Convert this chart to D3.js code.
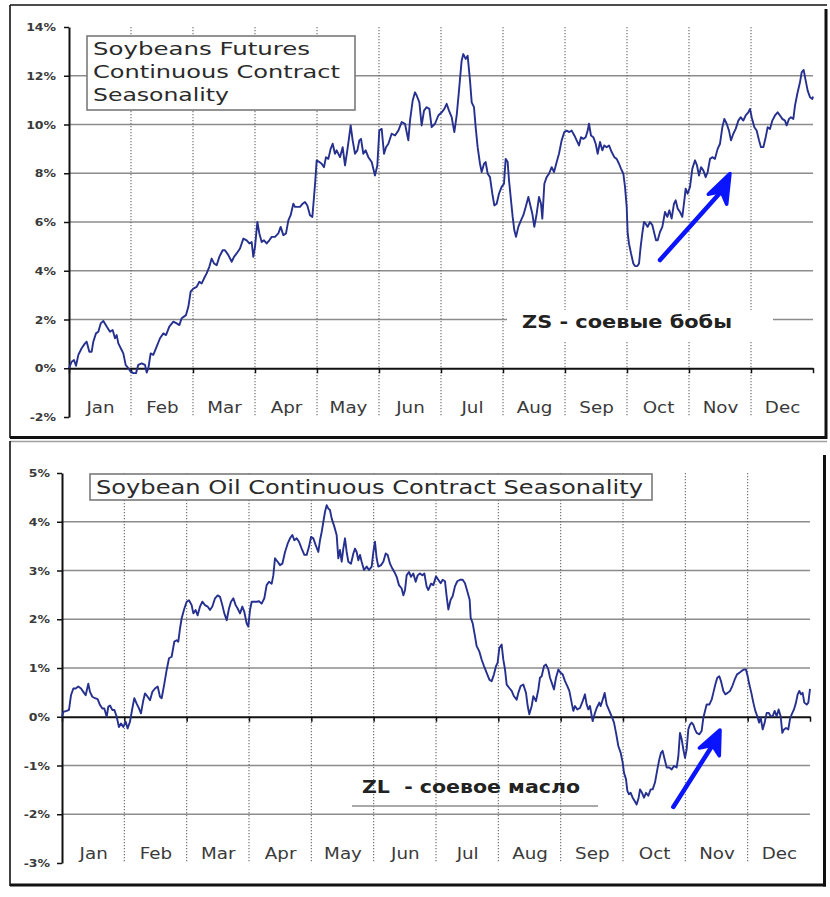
<!DOCTYPE html>
<html>
<head>
<meta charset="utf-8">
<script src="https://cdn.jsdelivr.net/npm/d3@7"></script>
<style>
  html, body { margin: 0; padding: 0; background: #fff; }
  svg { display: block; }
</style>
</head>
<body>
<svg id="chart" width="830" height="897"></svg>
<script>
// Month labels shared by both panels
const monthNames = ["Jan", "Feb", "Mar", "Apr", "May", "Jun", "Jul", "Aug", "Sep", "Oct", "Nov", "Dec"];

// Y tick values (percent)
const zsTicks = [-2, 0, 2, 4, 6, 8, 10, 12, 14];
const zlTicks = [-3, -2, -1, 0, 1, 2, 3, 4, 5];

// Seasonal average path: [position in months from Jan 1, cumulative % change]
const zsSeries = [
  [0,0],[0.043,0.27],[0.081,0.34],[0.113,0.10],[0.151,0.55],[0.204,0.82],[0.258,1.02],[0.285,1.09],[0.328,0.68],[0.366,0.68],
  [0.392,1.09],[0.435,1.43],[0.473,1.50],[0.511,1.84],[0.554,1.94],[0.608,1.71],[0.661,1.50],[0.704,1.57],[0.742,1.23],[0.769,1.36],
  [0.796,1.02],[0.849,0.75],[0.876,0.61],[0.914,0.14],[0.957,0.00],[0.995,-0.14],[1.038,-0.20],[1.081,-0.20],[1.118,0.14],[1.172,0.20],
  [1.226,0.14],[1.253,-0.18],[1.280,0.00],[1.317,0.61],[1.360,0.55],[1.414,0.89],[1.468,1.23],[1.522,1.43],[1.565,1.36],[1.618,1.71],
  [1.683,1.91],[1.737,1.84],[1.780,1.77],[1.817,2.05],[1.887,2.18],[1.925,2.52],[1.962,3.14],[2.005,3.27],[2.059,3.34],[2.102,3.55],
  [2.140,3.48],[2.177,3.68],[2.220,3.89],[2.263,4.16],[2.301,4.50],[2.339,4.30],[2.382,4.23],[2.425,4.57],[2.478,4.84],[2.516,4.84],
  [2.570,4.64],[2.624,4.37],[2.661,4.57],[2.704,4.71],[2.758,4.91],[2.812,5.32],[2.866,5.25],[2.909,5.12],[2.946,5.18],[2.973,4.57],
  [3.000,4.98],[3.038,6.00],[3.070,5.53],[3.108,5.18],[3.145,5.25],[3.188,5.12],[3.231,5.25],[3.269,5.39],[3.323,5.39],[3.376,5.53],
  [3.414,5.80],[3.457,5.46],[3.500,5.53],[3.538,6.07],[3.575,6.28],[3.618,6.75],[3.645,6.62],[3.683,6.62],[3.726,6.62],[3.769,6.75],
  [3.806,6.82],[3.844,6.68],[3.887,6.28],[3.925,6.21],[3.952,7.03],[3.973,7.71],[3.995,8.53],[4.038,8.46],[4.075,8.39],[4.113,8.25],
  [4.145,8.66],[4.183,8.59],[4.220,9.00],[4.253,9.21],[4.290,8.80],[4.317,8.94],[4.371,8.66],[4.414,9.07],[4.452,8.32],[4.489,8.94],
  [4.522,9.55],[4.543,9.96],[4.575,9.35],[4.613,8.80],[4.651,8.94],[4.683,9.35],[4.710,9.41],[4.747,8.80],[4.785,8.94],[4.828,8.66],
  [4.882,8.46],[4.935,7.91],[4.973,8.32],[5.005,9.75],[5.043,9.82],[5.081,8.80],[5.113,9.07],[5.151,9.21],[5.204,9.62],[5.258,9.55],
  [5.312,9.75],[5.366,10.10],[5.419,10.03],[5.473,9.35],[5.500,10.16],[5.543,10.98],[5.581,11.32],[5.608,11.19],[5.651,10.91],[5.688,9.96],
  [5.726,10.57],[5.769,10.71],[5.812,10.64],[5.849,9.89],[5.903,10.03],[5.957,10.37],[6.011,10.50],[6.054,10.64],[6.091,10.85],[6.129,10.57],
  [6.172,10.30],[6.215,9.69],[6.253,10.37],[6.290,11.39],[6.333,12.62],[6.360,12.89],[6.398,12.69],[6.430,12.82],[6.468,11.80],[6.495,10.91],
  [6.532,10.71],[6.559,9.89],[6.591,9.07],[6.629,8.39],[6.656,8.05],[6.694,8.39],[6.720,8.46],[6.753,7.98],[6.790,7.84],[6.828,7.16],
  [6.860,6.68],[6.898,6.75],[6.935,7.16],[6.978,7.44],[7.016,7.57],[7.043,8.59],[7.075,8.46],[7.097,7.71],[7.129,6.89],[7.156,6.21],
  [7.183,5.66],[7.210,5.39],[7.247,5.80],[7.290,6.07],[7.328,6.28],[7.366,6.62],[7.409,7.03],[7.435,6.75],[7.473,6.34],[7.505,5.80],
  [7.543,6.34],[7.581,7.03],[7.613,6.75],[7.634,6.14],[7.667,7.57],[7.704,7.84],[7.742,7.98],[7.785,8.25],[7.823,8.05],[7.866,8.46],
  [7.903,8.80],[7.946,9.35],[7.989,9.69],[8.027,9.75],[8.070,9.69],[8.108,9.75],[8.151,9.55],[8.188,9.35],[8.226,9.14],[8.258,9.48],
  [8.296,9.41],[8.333,9.48],[8.366,9.75],[8.387,10.03],[8.419,9.55],[8.457,9.48],[8.495,9.21],[8.527,8.80],[8.565,9.28],[8.602,8.94],
  [8.634,9.14],[8.672,9.07],[8.710,9.14],[8.753,8.87],[8.796,8.66],[8.833,8.59],[8.871,8.39],[8.903,8.19],[8.941,7.98],[8.968,7.44],
  [8.995,6.62],[9.011,5.53],[9.032,5.12],[9.065,4.71],[9.102,4.30],[9.129,4.19],[9.167,4.19],[9.194,4.30],[9.220,4.98],[9.247,5.53],
  [9.274,6.00],[9.301,5.93],[9.333,5.80],[9.371,6.00],[9.409,5.87],[9.441,5.53],[9.468,5.25],[9.495,5.25],[9.532,5.59],[9.570,5.80],
  [9.613,6.41],[9.651,6.21],[9.683,6.48],[9.720,6.14],[9.758,6.75],[9.785,6.89],[9.817,6.55],[9.855,6.41],[9.892,6.21],[9.925,6.89],
  [9.946,7.37],[9.978,7.16],[10.016,7.44],[10.054,8.19],[10.097,8.53],[10.129,8.32],[10.161,7.91],[10.194,8.25],[10.231,8.12],[10.269,7.84],
  [10.301,8.05],[10.339,8.59],[10.376,8.66],[10.419,8.59],[10.462,9.00],[10.500,9.21],[10.538,9.89],[10.570,10.23],[10.608,10.03],[10.645,9.75],
  [10.677,9.35],[10.715,9.62],[10.753,9.82],[10.796,10.16],[10.833,10.30],[10.876,10.16],[10.914,10.37],[10.957,10.50],[10.984,10.64],[11.011,10.30],
  [11.054,9.89],[11.091,9.75],[11.129,9.35],[11.161,9.07],[11.199,9.07],[11.237,9.48],[11.269,9.89],[11.306,9.82],[11.344,10.16],[11.387,10.37],
  [11.430,10.50],[11.468,10.37],[11.505,10.23],[11.548,10.16],[11.575,9.96],[11.613,10.23],[11.645,10.30],[11.683,10.23],[11.710,10.78],[11.747,11.26],
  [11.790,11.73],[11.817,12.14],[11.849,12.24],[11.882,11.80],[11.914,11.39],[11.952,11.12],[11.989,11.05],[12.0,11.15]
];

const zlSeries = [
  [0,0],[0.021,0.10],[0.075,0.12],[0.112,0.14],[0.144,0.44],[0.182,0.58],[0.219,0.58],[0.262,0.62],[0.305,0.58],[0.342,0.51],
  [0.380,0.44],[0.422,0.68],[0.449,0.51],[0.487,0.41],[0.529,0.38],[0.572,0.36],[0.610,0.24],[0.647,0.17],[0.679,0.17],[0.717,0.00],
  [0.743,0.21],[0.770,0.23],[0.807,0.14],[0.840,0.14],[0.877,0.00],[0.914,-0.21],[0.947,-0.14],[0.984,-0.21],[1.021,-0.10],[1.053,-0.24],
  [1.091,-0.10],[1.128,0.17],[1.160,0.38],[1.198,0.27],[1.235,0.17],[1.267,0.07],[1.305,0.34],[1.332,0.48],[1.374,0.41],[1.412,0.34],
  [1.449,0.51],[1.492,0.58],[1.535,0.62],[1.572,0.41],[1.599,0.38],[1.642,0.68],[1.679,0.96],[1.717,1.20],[1.759,1.23],[1.802,1.54],
  [1.840,1.57],[1.866,1.54],[1.893,1.81],[1.920,2.02],[1.963,2.22],[2.000,2.36],[2.037,2.39],[2.080,2.29],[2.107,2.12],[2.144,2.19],
  [2.176,2.08],[2.214,2.26],[2.251,2.36],[2.294,2.29],[2.337,2.26],[2.374,2.19],[2.412,2.26],[2.455,2.43],[2.497,2.49],[2.535,2.46],
  [2.572,2.29],[2.604,2.12],[2.642,1.98],[2.679,2.22],[2.711,2.36],[2.749,2.43],[2.786,2.29],[2.818,2.22],[2.856,2.12],[2.893,2.26],
  [2.925,2.15],[2.963,1.91],[2.989,1.85],[3.016,2.19],[3.043,2.36],[3.086,2.36],[3.123,2.36],[3.160,2.37],[3.203,2.32],[3.246,2.43],
  [3.283,2.70],[3.321,2.77],[3.364,2.73],[3.390,2.90],[3.417,3.25],[3.460,3.18],[3.497,3.11],[3.535,3.14],[3.578,3.38],[3.620,3.55],
  [3.658,3.66],[3.695,3.73],[3.727,3.62],[3.765,3.66],[3.802,3.59],[3.845,3.45],[3.888,3.32],[3.925,3.32],[3.963,3.49],[3.995,3.69],
  [4.032,3.66],[4.070,3.52],[4.112,3.38],[4.139,3.62],[4.166,3.79],[4.193,4.00],[4.219,4.20],[4.246,4.34],[4.273,4.27],[4.299,4.24],
  [4.326,4.07],[4.369,3.90],[4.406,3.73],[4.433,3.25],[4.460,3.42],[4.487,3.18],[4.513,3.45],[4.540,3.66],[4.567,3.38],[4.594,3.18],
  [4.636,3.14],[4.674,3.35],[4.701,3.45],[4.727,3.38],[4.754,3.21],[4.781,3.32],[4.807,3.18],[4.845,3.01],[4.888,3.08],[4.925,3.01],
  [4.968,3.08],[4.995,3.38],[5.021,3.59],[5.048,3.25],[5.075,3.08],[5.118,3.11],[5.155,3.18],[5.193,3.35],[5.225,3.32],[5.262,3.14],
  [5.300,3.04],[5.332,2.97],[5.369,2.87],[5.406,2.70],[5.449,2.63],[5.476,2.49],[5.503,2.60],[5.529,2.90],[5.567,2.97],[5.599,2.87],
  [5.636,2.94],[5.674,2.77],[5.706,2.90],[5.743,2.94],[5.781,2.90],[5.813,2.94],[5.850,2.67],[5.877,2.60],[5.920,2.73],[5.957,2.70],
  [6.000,2.88],[6.037,2.81],[6.075,2.74],[6.107,2.81],[6.144,2.78],[6.171,2.47],[6.198,2.20],[6.235,2.40],[6.267,2.47],[6.305,2.68],
  [6.342,2.78],[6.385,2.81],[6.428,2.81],[6.465,2.74],[6.503,2.57],[6.540,2.40],[6.556,2.03],[6.588,1.92],[6.626,1.65],[6.652,1.45],
  [6.695,1.34],[6.733,1.17],[6.770,1.04],[6.813,0.90],[6.856,0.76],[6.893,0.73],[6.930,0.87],[6.963,1.04],[6.989,1.11],[7.016,1.41],
  [7.053,1.48],[7.080,1.17],[7.107,0.97],[7.134,0.66],[7.176,0.59],[7.214,0.53],[7.251,0.42],[7.294,0.35],[7.321,0.49],[7.358,0.63],
  [7.401,0.66],[7.444,0.49],[7.471,0.22],[7.497,0.05],[7.535,0.22],[7.561,0.42],[7.604,0.32],[7.642,0.56],[7.668,0.80],[7.695,0.83],
  [7.733,1.04],[7.765,1.07],[7.802,0.97],[7.829,0.80],[7.856,0.70],[7.893,0.56],[7.925,0.80],[7.963,0.97],[8.000,0.90],[8.032,0.87],
  [8.070,0.73],[8.107,0.63],[8.139,0.53],[8.176,0.29],[8.203,0.12],[8.230,0.22],[8.267,0.15],[8.310,0.18],[8.353,0.32],[8.390,0.46],
  [8.417,0.25],[8.444,0.15],[8.470,0.22],[8.513,-0.09],[8.551,0.08],[8.578,0.18],[8.620,0.29],[8.642,0.22],[8.674,0.35],[8.706,0.49],
  [8.738,0.25],[8.781,0.12],[8.818,0.01],[8.856,-0.12],[8.888,-0.33],[8.925,-0.60],[8.963,-0.74],[8.995,-0.94],[9.016,-1.15],[9.048,-1.28],
  [9.070,-1.52],[9.096,-1.59],[9.123,-1.56],[9.155,-1.66],[9.187,-1.73],[9.219,-1.80],[9.251,-1.66],[9.273,-1.49],[9.305,-1.56],[9.337,-1.66],
  [9.369,-1.56],[9.406,-1.62],[9.444,-1.49],[9.476,-1.49],[9.513,-1.35],[9.551,-1.08],[9.583,-0.87],[9.610,-0.74],[9.636,-0.70],[9.668,-0.87],
  [9.701,-1.04],[9.743,-1.04],[9.781,-1.08],[9.818,-1.01],[9.861,-1.04],[9.888,-0.81],[9.914,-0.33],[9.941,-0.46],[9.968,-0.67],[9.995,-0.84],
  [10.021,-0.67],[10.048,-0.26],[10.075,-0.16],[10.102,-0.12],[10.128,-0.16],[10.155,-0.26],[10.182,-0.33],[10.225,-0.36],[10.262,-0.29],[10.289,-0.02],
  [10.316,0.12],[10.342,0.25],[10.385,0.25],[10.422,0.35],[10.449,0.49],[10.481,0.66],[10.513,0.80],[10.545,0.83],[10.572,0.73],[10.610,0.53],
  [10.642,0.46],[10.679,0.49],[10.717,0.53],[10.754,0.63],[10.791,0.76],[10.829,0.87],[10.866,0.90],[10.904,0.94],[10.941,0.97],[10.973,0.97],
  [11.000,0.83],[11.027,0.66],[11.059,0.49],[11.091,0.29],[11.123,0.12],[11.155,0.01],[11.182,-0.12],[11.209,-0.02],[11.241,-0.26],[11.273,-0.12],
  [11.305,0.08],[11.337,0.08],[11.369,0.01],[11.401,0.01],[11.433,0.12],[11.465,0.01],[11.497,0.15],[11.529,0.01],[11.556,-0.33],[11.583,-0.26],
  [11.615,-0.23],[11.652,-0.26],[11.679,-0.05],[11.706,0.05],[11.743,0.15],[11.775,0.29],[11.802,0.46],[11.829,0.53],[11.856,0.46],[11.882,0.49],
  [11.909,0.29],[11.947,0.25],[11.973,0.29],[12.0,0.57]
];

// Hand-drawn trend arrows, in the same (month, %) units as the series
const zsArrow = { tail: [9.532, 4.44], tip: [10.661, 7.99], barbA: [10.311, 7.14], barbB: [10.608, 6.73] };
const zlArrow = { tail: [9.807, -1.85], tip: [10.557, -0.27], barbA: [10.224, -0.64], barbB: [10.545, -0.80] };

const FONT = "'DejaVu Sans', Verdana, sans-serif";
const svg = d3.select("#chart");

function addText(g, x, y, str, o) {
  const t = g.append("text")
    .attr("x", x).attr("y", y)
    .attr("font-family", FONT)
    .attr("font-size", o.size)
    .attr("font-weight", o.weight || "normal")
    .attr("fill", o.fill || "#222")
    .attr("text-anchor", o.anchor || "start")
    .style("white-space", "pre")
    .text(str);
  if (o.length) t.attr("textLength", o.length).attr("lengthAdjust", "spacingAndGlyphs");
  return t;
}

function drawArrow(g, x, y, a) {
  const P = p => [x(p[0]), y(p[1])];
  const tail = P(a.tail), tip = P(a.tip), A = P(a.barbA), B = P(a.barbB);
  const mid = [(A[0] + B[0]) / 2, (A[1] + B[1]) / 2];
  const notch = [mid[0] + 0.3 * (tip[0] - mid[0]), mid[1] + 0.3 * (tip[1] - mid[1])];
  const blue = "#0a14ff";
  g.append("line")
    .attr("x1", tail[0]).attr("y1", tail[1]).attr("x2", notch[0]).attr("y2", notch[1])
    .attr("stroke", blue).attr("stroke-width", 4.5).attr("stroke-linecap", "round");
  g.append("path")
    .attr("d", d3.line()([tip, A, notch, B]) + "Z")
    .attr("fill", blue).attr("stroke", blue).attr("stroke-width", 3.5).attr("stroke-linejoin", "round");
}

function drawPanel(p) {
  const g = svg.append("g");
  const x = d3.scaleLinear().domain([0, 12]).range([p.x0, p.x1]);
  const y = d3.scaleLinear().domain(p.domain).range([p.y1, p.y0]);

  // horizontal gridlines
  g.append("g").selectAll("line")
    .data(p.ticks.filter(t => t !== 0 && t !== p.domain[0] && t !== p.domain[1]))
    .join("line")
    .attr("x1", p.x0).attr("x2", p.x1)
    .attr("y1", d => y(d)).attr("y2", d => y(d))
    .attr("stroke", "#8c8c8c").attr("stroke-width", 1.6);

  // dotted month dividers
  g.append("g").selectAll("line")
    .data(d3.range(1, 12))
    .join("line")
    .attr("x1", d => x(d)).attr("x2", d => x(d))
    .attr("y1", p.y0).attr("y2", p.y1)
    .attr("stroke", "#666").attr("stroke-width", 1.1)
    .attr("stroke-dasharray", "1.2,1.8");

  // title box
  const tb = p.titleBox;
  g.append("rect")
    .attr("x", tb.x).attr("y", tb.y).attr("width", tb.w).attr("height", tb.h)
    .attr("fill", "#fff").attr("stroke", "#7a7a7a").attr("stroke-width", 1.6);
  p.titleLines.forEach(l => addText(g, l.x, l.y, l.text, { size: l.size, length: l.length, fill: "#2a2a2a" }));

  // ticker caption
  const c = p.caption;
  if (c.bg) {
    g.append("rect").attr("x", c.bg.x).attr("y", c.bg.y).attr("width", c.bg.w).attr("height", c.bg.h).attr("fill", "#fff");
  }
  if (c.rule) {
    g.append("line").attr("x1", c.rule.x1).attr("x2", c.rule.x2).attr("y1", c.rule.y).attr("y2", c.rule.y)
      .attr("stroke", "#8c8c8c").attr("stroke-width", 1.4);
  }
  addText(g, c.x, c.y, c.text, { size: 18, weight: "bold", length: c.length, fill: "#222" });

  // zero line with month ticks
  const zeroAxis = g.append("g").attr("transform", `translate(0,${y(0)})`)
    .call(d3.axisBottom(x).tickValues(d3.range(0, 13)).tickSize(5).tickSizeOuter(0).tickFormat(""));
  zeroAxis.select(".domain").attr("stroke", "#111").attr("stroke-width", 2);
  zeroAxis.selectAll(".tick line").attr("stroke", "#111").attr("stroke-width", 1.5);

  // month names
  const sx = 1.22;
  const mAxis = g.append("g").attr("transform", `translate(0,${p.y1})`)
    .call(d3.axisBottom(x).tickValues(d3.range(12).map(i => i + 0.5)).tickSize(0)
      .tickFormat((d, i) => monthNames[i]));
  mAxis.select(".domain").remove();
  mAxis.selectAll(".tick text")
    .attr("y", -4).attr("dy", 0)
    .attr("font-family", FONT).attr("font-size", 15).attr("fill", "#3a3a3a")
    .attr("transform", `scale(${sx},1)`);

  // y axis
  const ysx = 1.25;
  const yAxis = g.append("g").attr("transform", `translate(${p.x0},0)`)
    .call(d3.axisLeft(y).tickValues(p.ticks).tickSize(5).tickSizeOuter(0).tickFormat(d => d + "%"));
  yAxis.select(".domain").attr("stroke", "#111").attr("stroke-width", 2);
  yAxis.selectAll(".tick line").attr("stroke", "#111").attr("stroke-width", 1.5);
  yAxis.selectAll(".tick text")
    .attr("x", -p.labelGap / ysx).attr("dy", "0.36em")
    .attr("font-family", FONT).attr("font-size", 10).attr("font-weight", "bold").attr("fill", "#3a3a3a")
    .attr("transform", `scale(${ysx},1)`);

  // series
  g.append("path")
    .datum(p.series)
    .attr("d", d3.line().x(d => x(d[0])).y(d => y(d[1])))
    .attr("fill", "none").attr("stroke", "#25308f").attr("stroke-width", 1.9)
    .attr("stroke-linejoin", "round");

  drawArrow(g, x, y, p.arrow);
}

// panel frames
const frames = svg.append("g");
frames.append("line").attr("x1", 10).attr("x2", 827).attr("y1", 5).attr("y2", 5).attr("stroke", "#111").attr("stroke-width", 1.6);
frames.append("line").attr("x1", 10).attr("x2", 10).attr("y1", 5).attr("y2", 438).attr("stroke", "#111").attr("stroke-width", 1.6);
frames.append("line").attr("x1", 826).attr("x2", 826).attr("y1", 9).attr("y2", 439).attr("stroke", "#111").attr("stroke-width", 3);
frames.append("line").attr("x1", 10).attr("x2", 827).attr("y1", 437.5).attr("y2", 437.5).attr("stroke", "#111").attr("stroke-width", 3);

frames.append("line").attr("x1", 10).attr("x2", 827).attr("y1", 441.5).attr("y2", 441.5).attr("stroke", "#a0a0a0").attr("stroke-width", 1.4);
frames.append("line").attr("x1", 10).attr("x2", 10).attr("y1", 441).attr("y2", 886).attr("stroke", "#111").attr("stroke-width", 1.6);
frames.append("line").attr("x1", 824.5).attr("x2", 824.5).attr("y1", 455).attr("y2", 886.5).attr("stroke", "#111").attr("stroke-width", 3);
frames.append("line").attr("x1", 10).attr("x2", 826).attr("y1", 885).attr("y2", 885).attr("stroke", "#111").attr("stroke-width", 3);

drawPanel({
  x0: 69, x1: 813, y0: 27, y1: 417,
  domain: [-2, 14], ticks: zsTicks, series: zsSeries, arrow: zsArrow, labelGap: 13,
  titleBox: { x: 87, y: 36, w: 268, h: 74 },
  titleLines: [
    { x: 93, y: 54.5, text: "Soybeans Futures", size: 17, length: 217 },
    { x: 93, y: 77.5, text: "Continuous Contract", size: 17, length: 247 },
    { x: 93, y: 100.5, text: "Seasonality", size: 17, length: 136 }
  ],
  caption: { x: 522, y: 328, text: "ZS - соевые бобы", length: 210, bg: { x: 507, y: 310, w: 266, h: 32 } }
});

drawPanel({
  x0: 62, x1: 810, y0: 473, y1: 863,
  domain: [-3, 5], ticks: zlTicks, series: zlSeries, arrow: zlArrow, labelGap: 12,
  titleBox: { x: 90, y: 474, w: 562, h: 26 },
  titleLines: [
    { x: 96, y: 493.5, text: "Soybean Oil Continuous Contract Seasonality", size: 19, length: 547 }
  ],
  caption: { x: 362, y: 793, text: "ZL\u00a0\u00a0- соевое масло", length: 218, rule: { x1: 352, x2: 598, y: 806 } }
});
</script>
</body>
</html>
